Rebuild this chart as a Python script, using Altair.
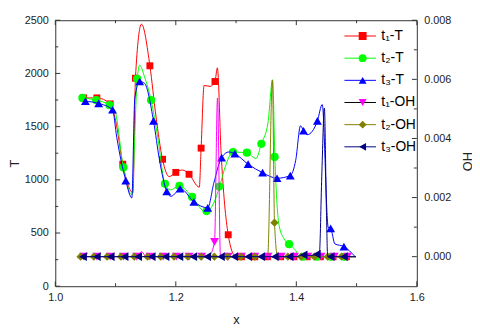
import altair as alt
import pandas as pd

# ---------------- data ----------------
series_names = ["t₁-T", "t₂-T", "t₃-T", "t₁-OH", "t₂-OH", "t₃-OH"]

t1T_line_x = [1.045, 1.069, 1.091, 1.100, 1.112, 1.129, 1.133, 1.143, 1.157, 1.167, 1.178, 1.189, 1.200,
              1.211, 1.222, 1.239, 1.242, 1.247, 1.257, 1.265, 1.269, 1.275, 1.287, 1.298, 1.320, 1.499]
t1T_line_y = [1770, 1770, 1714, 1560, 1147, 879, 1955, 2463, 2072, 1600, 1193, 1030, 1070,
              1092, 1052, 931, 1298, 1887, 1878, 1924, 2053, 1277, 484, 290, 277, 277]
t1T_mark_x = [1.047, 1.069, 1.091, 1.112, 1.133, 1.157, 1.178, 1.200, 1.222, 1.242, 1.265, 1.287,
              1.309, 1.331, 1.352, 1.374, 1.396, 1.418, 1.440, 1.461, 1.483]
t1T_mark_y = [1770, 1770, 1714, 1147, 1955, 2072, 1193, 1070, 1052, 1298, 1924, 484,
              277, 277, 277, 277, 277, 277, 277, 277, 277]

t2T_line_x = [1.045, 1.068, 1.090, 1.099, 1.113, 1.127, 1.136, 1.140, 1.148, 1.159, 1.170, 1.182, 1.191,
              1.206, 1.227, 1.249, 1.263, 1.273, 1.282, 1.295, 1.309, 1.318, 1.333, 1.342, 1.353, 1.3607,
              1.3644, 1.3715, 1.380, 1.388, 1.399, 1.405, 1.499]
t2T_line_y = [1770, 1748, 1702, 1647, 1116, 860, 1949, 2078, 1970, 1748, 1400, 962, 906,
              943, 839, 700, 783, 943, 1122, 1261, 1258, 1255, 1200, 1338, 1538, 1940,
              1215, 568, 444, 395, 336, 280, 277]
t2T_mark_x = [1.045, 1.068, 1.090, 1.113, 1.136, 1.159, 1.182, 1.206, 1.227, 1.251, 1.272, 1.295,
              1.318, 1.342, 1.364, 1.388, 1.411, 1.434, 1.457, 1.480]
t2T_mark_y = [1770, 1748, 1702, 1116, 1949, 1748, 962, 943, 839, 706, 937, 1261,
              1255, 1338, 1215, 395, 277, 277, 277, 277]

t3T_line_x = [1.050, 1.072, 1.095, 1.102, 1.117, 1.127, 1.132, 1.140, 1.148, 1.163, 1.173, 1.185, 1.192,
              1.208, 1.230, 1.253, 1.263, 1.276, 1.288, 1.298, 1.320, 1.344, 1.368, 1.390, 1.399, 1.407,
              1.412, 1.418, 1.435, 1.443, 1.453, 1.457, 1.464, 1.479, 1.498]
t3T_line_y = [1739, 1718, 1659, 1400, 993, 830, 1770, 1924, 1908, 1554, 1184, 891, 845,
              916, 793, 737, 968, 1209, 1262, 1245, 1147, 1067, 1015, 1040, 1184, 1508,
              1461, 1424, 1554, 1708, 552, 543, 398, 373, 275]
t3T_mark_x = [1.050, 1.072, 1.095, 1.117, 1.140, 1.163, 1.185, 1.207, 1.230, 1.253, 1.276, 1.298,
              1.320, 1.344, 1.368, 1.390, 1.412, 1.435, 1.457, 1.479]
t3T_mark_y = [1739, 1718, 1659, 993, 1924, 1554, 891, 916, 793, 737, 1209, 1245,
              1147, 1067, 1015, 1040, 1461, 1554, 543, 373]

t1OH_line_x = [1.045, 1.135, 1.143, 1.151, 1.255, 1.2643, 1.2692, 1.2742, 1.499]
t1OH_line_y = [0, 0, 0.00017, 0, 0.00003, 0.0005, 0.00537, 0, 0]
t1OH_mark_x = [1.047, 1.069, 1.091, 1.113, 1.135, 1.157, 1.179, 1.201, 1.222, 1.243, 1.2643,
               1.287, 1.309, 1.331, 1.353, 1.375, 1.397, 1.419, 1.441, 1.463, 1.485]
t1OH_mark_y = [0, 0, 0, 0, 0, 0, 0, 0, 0, 0, 0.0005,
               0, 0, 0, 0, 0, 0, 0, 0, 0, 0]

t2OH_line_x = [1.042, 1.350, 1.3525, 1.3603, 1.3638, 1.369, 1.499]
t2OH_line_y = [0, 0, 0.00003, 0.00598, 0.00115, 0, 0]
t2OH_mark_x = [1.042, 1.064, 1.086, 1.109, 1.131, 1.153, 1.175, 1.197, 1.220, 1.242, 1.264, 1.286,
               1.308, 1.331, 1.3638, 1.386, 1.408, 1.430, 1.452, 1.475]
t2OH_mark_y = [0, 0, 0, 0, 0, 0, 0, 0, 0, 0, 0, 0,
               0, 0, 0.00115, 0, 0, 0, 0, 0]

t3OH_line_x = [1.046, 1.400, 1.412, 1.424, 1.4346, 1.4384, 1.4422, 1.4466, 1.4500, 1.4520, 1.457, 1.499]
t3OH_line_y = [0, 0, 0.00006, 0.00004, 0.00008, 0.00015, 0.0027, 0.00503, 0.0015, 0.00003, 0, 0]
t3OH_mark_x = [1.046, 1.069, 1.092, 1.115, 1.1375, 1.160, 1.183, 1.206, 1.229, 1.252, 1.275, 1.297,
               1.320, 1.3416, 1.3644, 1.3889, 1.4122, 1.4341, 1.457, 1.479]
t3OH_mark_y = [0, 0, 0, 0, 0, 0, 0, 0, 0, 0, 0, 0,
               0, 0, 0, 0, 0.00006, 0.00008, 0, 0]

# axis tick values
x_labels = [1.0, 1.2, 1.4, 1.6]
x_minor = [1.1, 1.3, 1.5]
T_labels = [0, 500, 1000, 1500, 2000, 2500]
T_minor = [250, 750, 1250, 1750, 2250]
OH_labels = [0.0, 0.002, 0.004, 0.006, 0.008]
OH_minor = [0.001, 0.003, 0.005, 0.007]

# ---------------- styles ----------------
W, H = 367, 270
FONT = "Liberation Sans"
INK = "#222222"
FRAME = "#333333"
marker_colors = ["#FF0000", "#00FF00", "#0000FF", "#FF00FF", "#808000", "#000080"]
legend_line_colors = ["#FF0000", "#00FF00", "#0000FF", "#000000", "#808000", "#000080"]
plot_line_colors = ["#FF0000", "#00FF00", "#0000FF", "#FF00FF", "#808000", "#000080"]
shapes = ["square", "circle", "triangle-up", "triangle-down", "diamond", "triangle-left"]
marker_sizes = [49, 70, 81, 81, 72, 81]

fill_names = [n + " " for n in series_names]

x_scale = alt.Scale(domain=[1.0, 1.6], nice=False, zero=False)
T_scale = alt.Scale(domain=[0, 2500], nice=False, zero=False)
OH_scale = alt.Scale(domain=[-0.001, 0.008], nice=False, zero=False)

x_axis = alt.Axis(values=x_labels, format=".1f", title="x", ticks=False, domain=False, grid=False,
                  labelFlush=False, labelOverlap=False, labelPadding=6, labelFontSize=11,
                  labelColor=INK, titleFontSize=13, titleColor=INK, titleFontWeight="normal",
                  titlePadding=11)
T_axis = alt.Axis(values=T_labels, format="d", title="T", ticks=False, domain=False, grid=False,
                  labelFlush=False, labelOverlap=False, labelPadding=7, labelFontSize=11,
                  labelColor=INK, titleFontSize=13, titleColor=INK, titleFontWeight="normal",
                  titleAngle=270, titleX=-41, titleY=145, titleBaseline="middle", titleAlign="center")
OH_axis = alt.Axis(values=OH_labels, format=".3f", title="OH", orient="right", ticks=False, domain=False,
                   grid=False, labelFlush=False, labelOverlap=False, labelPadding=7, labelFontSize=11,
                   labelColor=INK, titleFontSize=13, titleColor=INK, titleFontWeight="normal",
                   titleAngle=270, titleX=51, titleY=143, titleBaseline="middle", titleAlign="center")

stroke_legend = alt.Legend(title=None, orient="none", legendX=293, legendY=9, direction="vertical",
                           symbolType="stroke", symbolSize=1024, symbolStrokeWidth=1, clipHeight=14,
                           rowPadding=8.5, labelFontSize=14, labelFont=FONT, labelColor="#000000",
                           labelOffset=5, padding=0)
fill_legend = alt.Legend(title=None, orient="none", legendX=305, legendY=9, direction="vertical",
                         symbolSize=64, symbolStrokeWidth=0, clipHeight=14, rowPadding=8.5,
                         labelFontSize=14, labelFont=FONT, labelExpr="''", labelOffset=5, padding=0)

stroke_scale = alt.Scale(domain=series_names, range=legend_line_colors)
fill_scale = alt.Scale(domain=fill_names, range=marker_colors)
shape_scale = alt.Scale(domain=fill_names, range=shapes)

X = alt.X("x:Q", scale=x_scale, axis=x_axis)
YT = alt.Y("T:Q", scale=T_scale, axis=T_axis)
YOH = alt.Y("OH:Q", scale=OH_scale, axis=OH_axis)


def series_layers(i, lx, ly, mx, my, ycol, Y):
    line_df = pd.DataFrame({"x": lx, ycol: ly, "s": series_names[i]})
    mark_df = pd.DataFrame({"x": mx, ycol: my, "f": fill_names[i]})
    if i == 3:
        line = alt.Chart(line_df).mark_line(strokeWidth=1, interpolate="monotone",
                                            stroke=plot_line_colors[i]).encode(x=X, y=Y)
    else:
        line = alt.Chart(line_df).mark_line(strokeWidth=1, interpolate="monotone").encode(
            x=X, y=Y, stroke=alt.Stroke("s:N", scale=stroke_scale, legend=stroke_legend))
    pts = alt.Chart(mark_df).mark_point(filled=True, size=marker_sizes[i], opacity=1,
                                        strokeWidth=0).encode(
        x=X, y=Y,
        fill=alt.Fill("f:N", scale=fill_scale, legend=fill_legend),
        shape=alt.Shape("f:N", scale=shape_scale, legend=fill_legend))
    return [line, pts]


def tick_rules():
    out = []
    for vals, ln in ((x_labels, 5), (x_minor, 3)):
        df = pd.DataFrame({"x": vals})
        out.append(alt.Chart(df).mark_rule(color=FRAME, strokeWidth=1).encode(
            x=X, y=alt.value(H), y2=alt.value(H - ln)))
        out.append(alt.Chart(df).mark_rule(color=FRAME, strokeWidth=1).encode(
            x=X, y=alt.value(0), y2=alt.value(ln)))
    return out


T_ticks = []
for vals, ln in ((T_labels, 5), (T_minor, 3)):
    df = pd.DataFrame({"T": vals})
    T_ticks.append(alt.Chart(df).mark_rule(color=FRAME, strokeWidth=1).encode(
        y=YT, x=alt.value(0), x2=alt.value(ln)))
OH_ticks = []
for vals, ln in ((OH_labels, 5), (OH_minor, 3)):
    df = pd.DataFrame({"OH": vals})
    OH_ticks.append(alt.Chart(df).mark_rule(color=FRAME, strokeWidth=1).encode(
        y=YOH, x=alt.value(W), x2=alt.value(W - ln)))

T_layers = tick_rules() + T_ticks
T_layers += series_layers(0, t1T_line_x, t1T_line_y, t1T_mark_x, t1T_mark_y, "T", YT)
T_layers += series_layers(1, t2T_line_x, t2T_line_y, t2T_mark_x, t2T_mark_y, "T", YT)
T_layers += series_layers(2, t3T_line_x, t3T_line_y, t3T_mark_x, t3T_mark_y, "T", YT)

OH_layers = list(OH_ticks)
OH_layers += series_layers(3, t1OH_line_x, t1OH_line_y, t1OH_mark_x, t1OH_mark_y, "OH", YOH)
OH_layers += series_layers(4, t2OH_line_x, t2OH_line_y, t2OH_mark_x, t2OH_mark_y, "OH", YOH)
OH_layers += series_layers(5, t3OH_line_x, t3OH_line_y, t3OH_mark_x, t3OH_mark_y, "OH", YOH)

T_group = alt.layer(*T_layers)
OH_group = alt.layer(*OH_layers)

chart = (
    alt.layer(T_group, OH_group)
    .resolve_scale(y="independent")
    .properties(width=W, height=H,
                padding={"left": 48, "top": 10, "right": 56, "bottom": 41},
                autosize=alt.AutoSizeParams(type="none"))
    .configure(font=FONT)
    .configure_view(stroke=FRAME, strokeWidth=1)
)

chart.save("out.html", embed_options={"renderer": "svg", "actions": False})
